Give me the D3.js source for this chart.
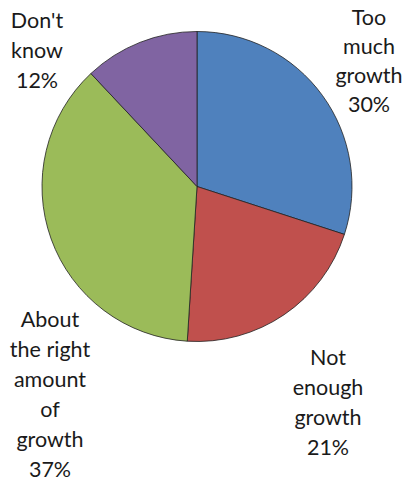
<!DOCTYPE html>
<html>
<head>
<meta charset="utf-8">
<script src="https://cdn.jsdelivr.net/npm/d3@7"></script>
<style>
  html, body { margin: 0; padding: 0; background: #fff; }
  svg { display: block; }
  text { font-family: "Lato", "Open Sans", sans-serif; font-size: 21.5px; fill: #1a1a1a; }
</style>
</head>
<body>
<svg id="chart" width="406" height="485"></svg>
<script>
// Survey answers, clockwise from 12 o'clock
const categories = ["Too much growth", "Not enough growth", "About the right amount of growth", "Don't know"];
const values = [30, 21, 37, 12];
const colors = ["#4F81BD", "#C0504D", "#9BBB59", "#8064A2"];
// Label text split into lines, with the percentage last
const labelLines = [
  ["Too", "much", "growth"],
  ["Not", "enough", "growth"],
  ["About", "the right", "amount", "of", "growth"],
  ["Don't", "know"]
];
// Label anchor (centre x, first baseline y) for each slice
const labelPos = [[369, 25], [328, 365], [50, 327], [37, 28]];

const svg = d3.select("#chart");
const cx = 197, cy = 186.5, r = 155;

const pie = d3.pie().sort(null).value(d => d);
const arc = d3.arc().innerRadius(0).outerRadius(r);

const g = svg.append("g").attr("transform", `translate(${cx},${cy})`);
g.selectAll("path")
  .data(pie(values))
  .join("path")
  .attr("d", arc)
  .attr("fill", (d, i) => colors[i])
  .attr("stroke", "#222")
  .attr("stroke-width", 0.8)
  .attr("stroke-linejoin", "round");

const lineH = 30;
categories.forEach((c, i) => {
  const lines = labelLines[i].concat([values[i] + "%"]);
  const t = svg.append("text")
    .attr("text-anchor", "middle")
    .attr("x", labelPos[i][0])
    .attr("y", labelPos[i][1]);
  lines.forEach((s, k) => {
    t.append("tspan")
      .attr("x", labelPos[i][0])
      .attr("dy", k === 0 ? 0 : (i === 0 ? 29 : lineH))
      .text(s);
  });
});
</script>
</body>
</html>
